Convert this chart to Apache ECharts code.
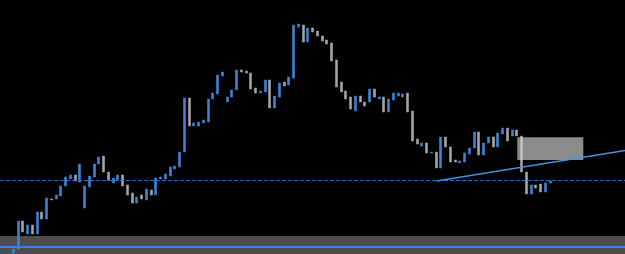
<!DOCTYPE html>
<html><head><meta charset="utf-8">
<script src="https://cdn.jsdelivr.net/npm/echarts@6/dist/echarts.min.js"></script>
<style>html,body{margin:0;padding:0;background:#000;}#c{width:625px;height:254px;}</style>
</head><body><div id="c"></div>
<script>
// OHLC values (price units), one entry per bar
const opens  = [1,5,33,20,29,20,42,35,55,55,58,68,75,79,72,46,67,77,90,98,82,71,74,79,69,61,51,59,54,64,59,75,75,78,85,87,102,156,128,128,131,132,155,160,178,152,157,164,184,183,181,166,161,162,174,146,157,172,169,176,227,229,212,226,223,218,214,211,194,172,163,157,143,158,152,152,165,155,157,142,154,158,157,161,143,115,108,111,101,102,86,117,107,94,91,92,100,106,122,99,111,117,107,120,126,118,124,118,82,60,69,70,62,71];
const closes = [5,33,22,29,20,42,35,56,54,59,68,77,79,73,90,68,78,90,97,82,74,76,79,68,59,51,57,55,65,59,76,77,80,87,88,102,156,128,131,132,134,155,161,179,182,157,164,184,182,181,165,161,163,174,146,158,171,168,177,229,230,212,226,222,218,213,210,193,167,162,155,145,158,152,148,165,157,157,142,155,161,161,160,142,113,110,111,101,102,86,117,107,92,92,93,101,106,122,99,111,117,107,121,126,113,124,118,82,60,69,66,62,71,73];
const lows   = [0,3,9,18,17,19,32,32,53,54,57,65,39,54,71,45,66,59,89,77,70,70,65,61,57,47,47,54,53,54,57,66,62,77,82,82,97,124,119,125,124,122,137,157,174,151,156,152,161,172,164,159,159,151,141,136,156,166,166,166,226,204,211,221,217,208,206,179,164,160,154,141,142,146,141,151,152,145,139,137,153,156,157,130,111,97,106,100,94,74,84,102,89,86,87,79,99,80,96,97,109,96,106,118,112,108,107,81,59,42,64,61,59,67];
const highs  = [10,61,34,31,31,44,44,57,56,61,71,80,96,84,92,71,84,97,99,99,83,84,82,80,77,77,61,61,67,72,77,79,81,88,92,104,172,171,133,138,136,157,164,187,187,159,167,186,200,203,182,171,166,176,179,159,176,176,182,231,233,237,227,227,225,225,222,211,194,174,166,159,165,161,154,177,166,163,166,156,162,162,168,162,144,117,114,112,107,111,118,127,109,96,97,116,108,125,124,112,120,121,122,129,127,126,132,120,83,71,71,71,72,74];

// reference levels (bar index / price)
const dashedLevel = 73.5;
const baseLevel = 7.5;
const bandRange = [0, 18];
const trendLine = [[89.1, 73], [128.8, 103.5]];
const zoneCorners = [[106.1, 116.7], [120.0, 94]];
const barRange = [-2.8, 128.78];

const full = [], body = [];
for (let i = 0; i < opens.length; i++) {
  full.push([i, opens[i], closes[i], lows[i], highs[i]]);
  body.push([i, opens[i], closes[i], Math.min(opens[i], closes[i]), Math.max(opens[i], closes[i])]);
}

const chart = echarts.init(document.getElementById('c'), null, {renderer: 'canvas'});
chart.setOption({
  backgroundColor: '#000',
  animation: false,
  grid: {left: 0, right: 0, top: 0, bottom: 0},
  xAxis: {type: 'value', min: barRange[0], max: barRange[1], show: false, splitLine: {show: false}},
  yAxis: {type: 'value', min: 0, max: 254, show: false, splitLine: {show: false}},
  series: [
    {
      type: 'candlestick', name: 'wick', data: full, barWidth: 1, z: 2,
      encode: {x: 0, y: [1, 2, 3, 4]},
      itemStyle: {color: '#23538f', color0: '#7a7a7a', borderColor: '#23538f', borderColor0: '#7a7a7a', borderWidth: 0},
      markArea: {silent: true, z: 1, itemStyle: {color: '#4d4d4d'},
        data: [[{yAxis: bandRange[0]}, {yAxis: bandRange[1]}]]},
      markLine: {silent: true, symbol: ['none','none'], label: {show: false}, z: 7,
        data: [
          {yAxis: dashedLevel, lineStyle: {color: '#2f6fc2', width: 1, type: [4, 2]}},
          {yAxis: baseLevel, lineStyle: {color: '#3f83d8', width: 2, type: 'solid'}}
        ]}
    },
    {
      type: 'candlestick', name: 'body', data: body, barWidth: 2.5, z: 3,
      encode: {x: 0, y: [1, 2, 3, 4]},
      itemStyle: {color: '#3d84d6', color0: '#a4a4a4', borderColor: '#3d84d6', borderColor0: '#a4a4a4', borderWidth: 0.6},
      markArea: {silent: true, z: 6, itemStyle: {color: 'rgba(205,205,205,0.68)'},
        data: [[{coord: zoneCorners[0]}, {coord: zoneCorners[1]}]]}
    },
    {
      type: 'line', name: 'trend', data: trendLine, z: 8, symbol: 'none',
      lineStyle: {color: '#4a8fe0', width: 1.5}
    }
  ]
});
</script></body></html>
